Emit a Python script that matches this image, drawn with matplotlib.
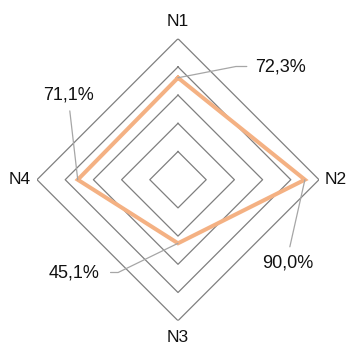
import numpy as np
import matplotlib
matplotlib.use("Agg")
import matplotlib.pyplot as plt

# ── Data ──────────────────────────────────────────────────────────────────────
categories = ["N1", "N2", "N3", "N4"]
values = [0.723, 0.900, 0.451, 0.711]
value_labels = ["72,3%", "90,0%", "45,1%", "71,1%"]
grid_levels = [0.2, 0.4, 0.6, 0.8, 1.0]

# ── Style ─────────────────────────────────────────────────────────────────────
plt.rcParams["font.family"] = ["Liberation Sans", "DejaVu Sans"]
GRID_COLOR = "#7f7f7f"
LINE_COLOR = "#f4b183"
LEADER_COLOR = "#a6a6a6"
TEXT_COLOR = "#111111"

W, H, DPI = 347, 344, 100
CX, CY, R = 178, 179.7, 141  # centre and radius in image pixels

fig = plt.figure(figsize=(W / DPI, H / DPI), dpi=DPI)
ax = fig.add_axes(
    [(CX - R) / W, (H - CY - R) / H, 2 * R / W, 2 * R / H], projection="polar"
)
ax.set_theta_offset(np.pi / 2)
ax.set_theta_direction(-1)
ax.set_ylim(0, 1)
ax.axis("off")

angles = np.linspace(0, 2 * np.pi, len(categories), endpoint=False)
closed = np.append(angles, angles[0])

# grid diamonds
for lvl in grid_levels:
    ax.plot(closed, [lvl] * len(closed), color=GRID_COLOR, lw=0.9, zorder=1)

# data polygon
ax.plot(closed, values + values[:1], color=LINE_COLOR, lw=2.9,
        solid_joinstyle="miter", zorder=3)

# category labels
for a, cat in zip(angles, categories):
    ax.text(a, 1.12, cat, ha="center", va="center", fontsize=12.5,
            color=TEXT_COLOR, clip_on=False)

# value labels with leader lines (text centre in image px, relpos, connection)
label_layout = [
    ((280.5, 66.5), (0, 0.5), "angle,angleA=0,angleB=11,rad=0", 4),
    ((288, 263.5), (0.5, 1), "arc3,rad=0", 4),
    ((74, 272.5), (1, 0.5), "angle,angleA=0,angleB=26,rad=0", 6),
    ((69, 95.5), (0.5, 0), "arc3,rad=0", 3),
]
for a, v, txt, (pos, rel, conn, shr) in zip(angles, values, value_labels,
                                            label_layout):
    ax.annotate(
        txt, xy=(a, v), xytext=(pos[0], H - pos[1]),
        textcoords="figure pixels", ha="center", va="center",
        fontsize=13, color=TEXT_COLOR, annotation_clip=False,
        arrowprops=dict(arrowstyle="-", color=LEADER_COLOR, lw=0.9,
                        relpos=rel, connectionstyle=conn,
                        shrinkA=shr, shrinkB=0),
        zorder=4,
    )

fig.savefig("out.png", dpi=DPI, facecolor="white")
